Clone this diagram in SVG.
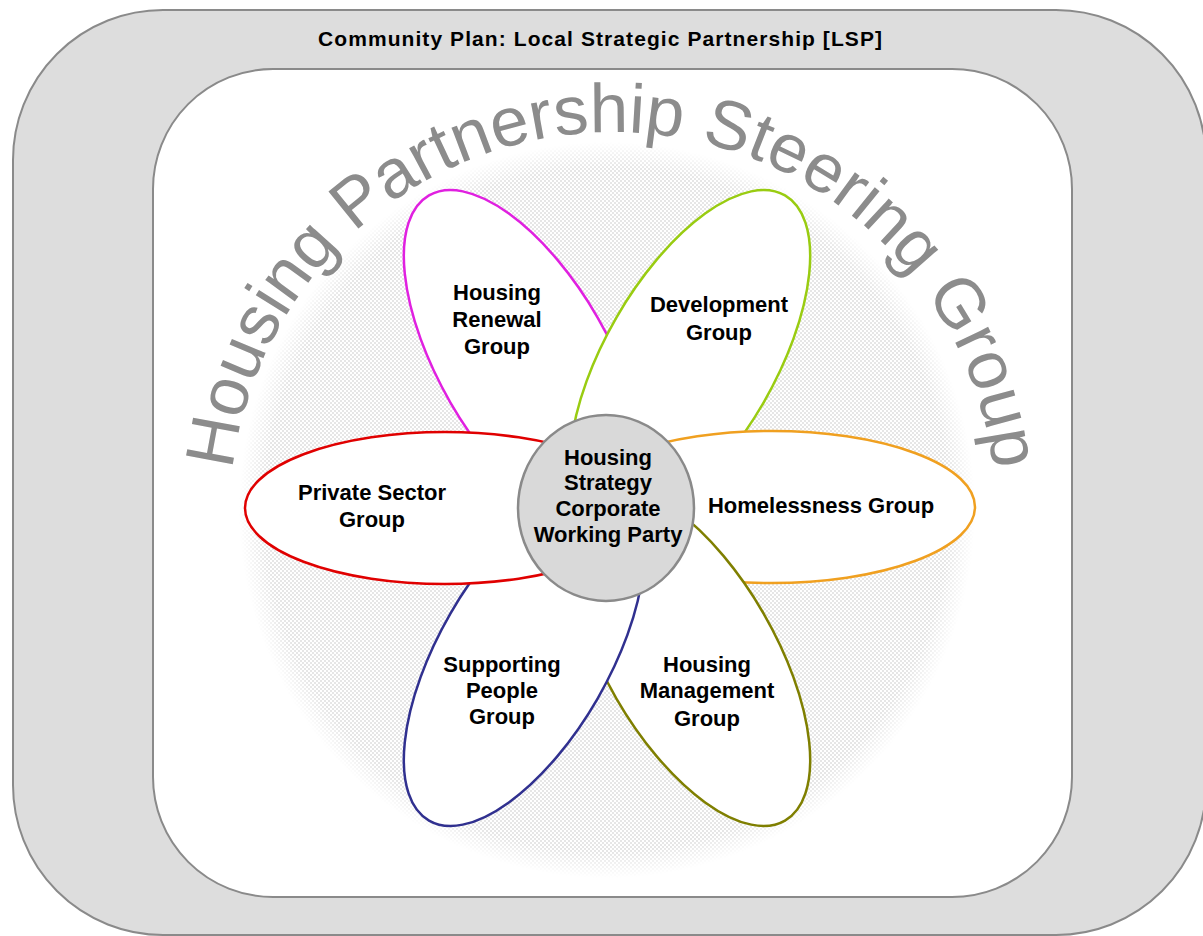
<svg xmlns="http://www.w3.org/2000/svg" width="1203" height="936" viewBox="0 0 1203 936">
  <defs>
    <style>
      .frame { stroke: #8a8a8a; stroke-width: 2; }
      .title { font-family: "Liberation Sans", Arial, sans-serif; font-weight: bold; font-size: 21px; fill: #000; text-anchor: middle; }
      .lbl { font-family: "Liberation Sans", Arial, sans-serif; font-weight: bold; font-size: 22px; fill: #000; text-anchor: middle; }
      .petal { fill: #fff; stroke-width: 2.5; }
      .arc { font-family: "Liberation Sans", Arial, sans-serif; font-size: 69px; fill: #8c8c8c; }
    </style>
    <!-- fine dot screen used for the steering-group disc -->
    <pattern id="dots" width="4" height="4" patternUnits="userSpaceOnUse">
      <circle cx="1" cy="1" r="0.8" fill="#c6c6c6"/>
      <circle cx="3" cy="3" r="0.8" fill="#c6c6c6"/>
    </pattern>
    <radialGradient id="fade" cx="607" cy="510" r="368" gradientUnits="userSpaceOnUse">
      <stop offset="0.93" stop-color="#fff"/>
      <stop offset="1" stop-color="#fff" stop-opacity="0"/>
    </radialGradient>
    <mask id="discMask">
      <circle cx="607" cy="510" r="368" fill="url(#fade)"/>
    </mask>
    <!-- baseline of the arched heading -->
    <path id="arch" d="M 230 515 A 383 383 0 0 1 996 515" fill="none"/>
  </defs>

  <!-- outer band: community plan -->
  <g id="lsp">
    <rect class="frame" x="13" y="10" width="1193" height="925" rx="150" ry="150" fill="#dddddd"/>
    <text class="title" x="600" y="46" textLength="564" lengthAdjust="spacing">Community Plan: Local Strategic Partnership [LSP]</text>
  </g>

  <!-- inner panel -->
  <g id="steering-group">
    <rect class="frame" x="153" y="69" width="919" height="828" rx="120" ry="120" fill="#ffffff"/>
    <circle cx="607" cy="510" r="368" fill="url(#dots)" mask="url(#discMask)"/>
    <text class="arc"><textPath href="#arch" startOffset="50%" text-anchor="middle">Housing Partnership Steering Group</textPath></text>
  </g>

  <g id="connectors"/>

  <!-- petals, back to front -->
  <g id="housing-renewal">
    <ellipse class="petal" cx="524" cy="360" rx="190" ry="85" transform="rotate(60 524 360)" stroke="#e020e0"/>
    <text class="lbl" x="497" y="300">Housing</text>
    <text class="lbl" x="497" y="327">Renewal</text>
    <text class="lbl" x="497" y="354">Group</text>
  </g>

  <g id="development">
    <ellipse class="petal" cx="690" cy="360" rx="190" ry="85" transform="rotate(-60 690 360)" stroke="#99cc11"/>
    <text class="lbl" x="719" y="312">Development</text>
    <text class="lbl" x="719" y="340">Group</text>
  </g>

  <g id="homelessness">
    <ellipse class="petal" cx="772" cy="507" rx="203" ry="76" stroke="#f0a020"/>
    <text class="lbl" x="821" y="513">Homelessness Group</text>
  </g>

  <g id="housing-management">
    <ellipse class="petal" cx="690" cy="656" rx="190" ry="85" transform="rotate(60 690 656)" stroke="#7f7f00"/>
    <text class="lbl" x="707" y="672">Housing</text>
    <text class="lbl" x="707" y="698">Management</text>
    <text class="lbl" x="707" y="726">Group</text>
  </g>

  <g id="supporting-people">
    <ellipse class="petal" cx="524" cy="656" rx="190" ry="85" transform="rotate(-60 524 656)" stroke="#30308f"/>
    <text class="lbl" x="502" y="672">Supporting</text>
    <text class="lbl" x="502" y="698">People</text>
    <text class="lbl" x="502" y="724">Group</text>
  </g>

  <g id="private-sector">
    <ellipse class="petal" cx="445" cy="508" rx="200" ry="76" stroke="#e00000"/>
    <text class="lbl" x="372" y="500">Private Sector</text>
    <text class="lbl" x="372" y="527">Group</text>
  </g>

  <g id="corporate-working-party">
    <ellipse cx="606" cy="508" rx="88" ry="93" fill="#d9d9d9" stroke="#8a8a8a" stroke-width="2.5"/>
    <text class="lbl" x="608" y="465">Housing</text>
    <text class="lbl" x="608" y="490">Strategy</text>
    <text class="lbl" x="608" y="516">Corporate</text>
    <text class="lbl" x="608" y="542">Working Party</text>
  </g>
</svg>
